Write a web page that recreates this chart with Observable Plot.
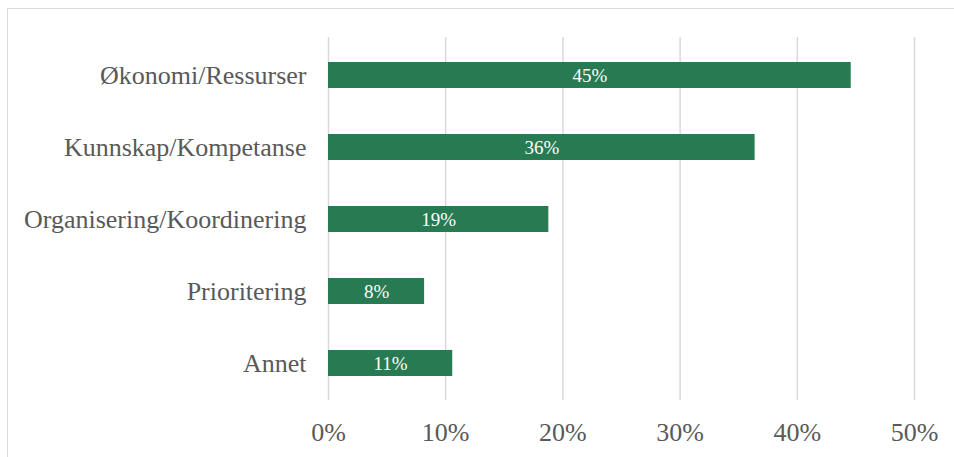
<!DOCTYPE html>
<html>
<head>
<meta charset="utf-8">
<script src="https://cdn.jsdelivr.net/npm/d3@7"></script>
<script src="https://cdn.jsdelivr.net/npm/@observablehq/plot@0.6"></script>
<style>
  html, body { margin: 0; padding: 0; background: #fff; }
  #wrap { position: relative; width: 954px; height: 457px; overflow: hidden; }
  #border { position: absolute; left: 7px; top: 8px; width: 1000px; height: 500px; border: 1.5px solid #d9d9d9; box-sizing: border-box; }
  #chart { position: absolute; left: 0; top: 0; }
</style>
</head>
<body>
<div id="wrap"><div id="border"></div><div id="chart"></div></div>
<script>
const categories = ["Økonomi/Ressurser", "Kunnskap/Kompetanse", "Organisering/Koordinering", "Prioritering", "Annet"];
const values = [44.6, 36.4, 18.8, 8.2, 10.6];
const xTicks = [0, 10, 20, 30, 40, 50];

const data = categories.map((c, i) => ({category: c, value: values[i]}));
const font = "'Liberation Serif', serif";

const chart = Plot.plot({
  width: 954,
  height: 457,
  marginLeft: 328,
  marginRight: 40,
  marginTop: 37,
  marginBottom: 57,
  style: {fontFamily: font, fontSize: "26px", color: "#595959", background: "transparent"},
  x: {domain: [0, 50], ticks: xTicks, label: null},
  y: {domain: categories, paddingInner: 0.64, paddingOuter: 0.32, label: null},
  marks: [
    Plot.ruleX(xTicks, {stroke: "#d9d9d9", strokeWidth: 1.5}),
    Plot.barX(data, {x: "value", y: "category", fill: "#277a52"}),
    Plot.text(data, {x: d => d.value / 2, y: "category", text: d => Math.round(d.value) + "%", fill: "#fff", fontSize: 19}),
    Plot.axisX({ticks: xTicks, tickFormat: d => d + "%", tickSize: 0, tickPadding: 22, fontSize: 26, fill: "#595959", label: null}),
    Plot.axisY({tickSize: 0, tickPadding: 22, fontSize: 26, fill: "#595959", label: null})
  ]
});
document.getElementById("chart").appendChild(chart);
</script>
</body>
</html>
